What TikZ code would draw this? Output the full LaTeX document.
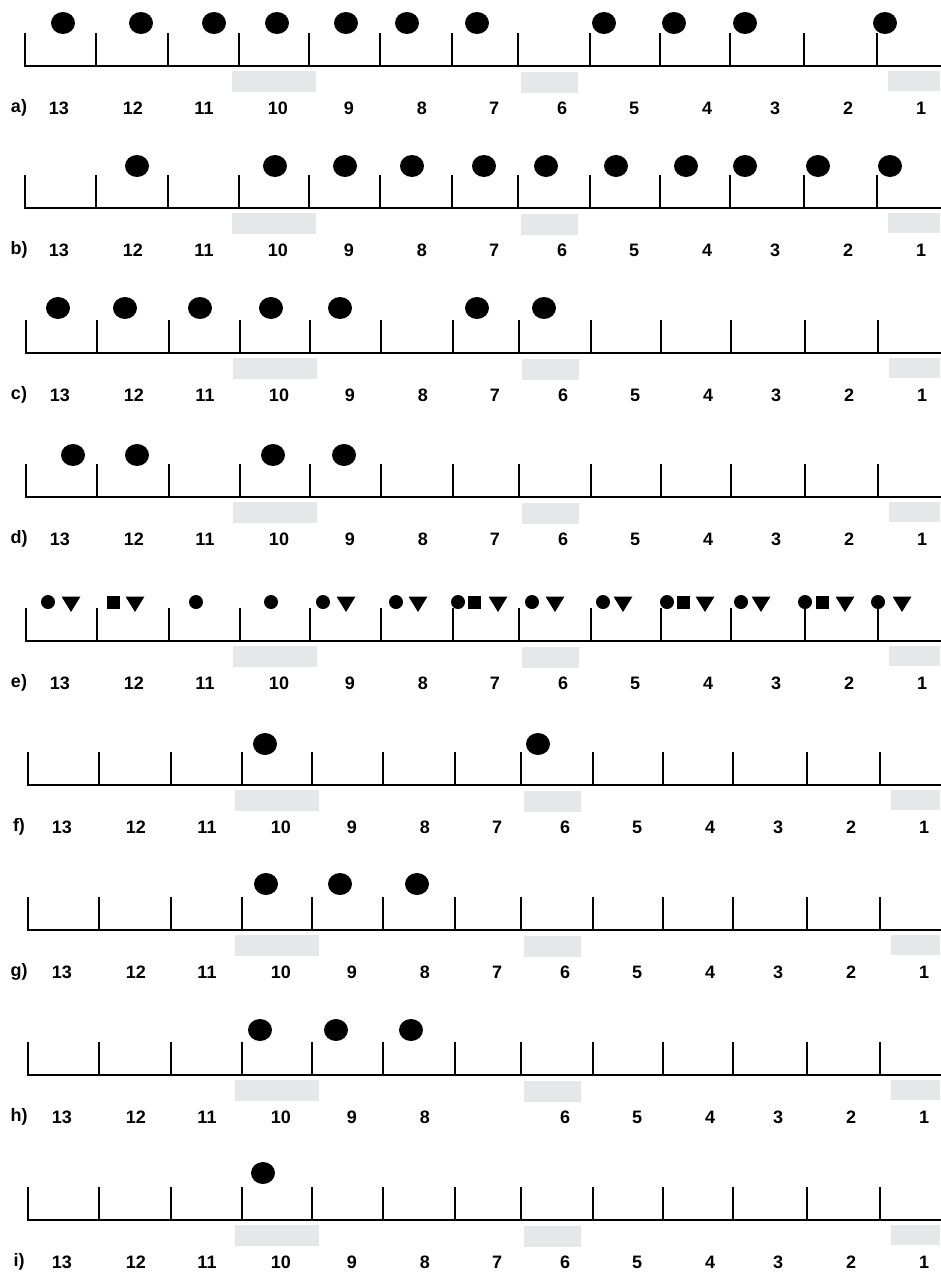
\documentclass[tikz,border=0pt]{standalone}
\usepackage{fontspec}
\setmainfont{Liberation Sans}
\definecolor{boxgray}{HTML}{E6E7E8}
\begin{document}
\begin{tikzpicture}[x=1pt,y=-1pt,
  lbl/.style={font=\bfseries\fontsize{18}{18}\selectfont, inner sep=0pt, anchor=center},
  graybox/.style={fill=boxgray, draw=none},
  axisline/.style={line width=2.3pt, line cap=rect},
  tickline/.style={line width=2pt},
  dotmark/.style={fill=black},
]
\useasboundingbox[fill=white] (0,0) rectangle (940,1272);
% axes, ticks, grey boxes, labels
\foreach \r/\k/\b/\s in {a/0/66/0, b/1/208/0, c/2/353/1, d/3/497/1, e/4/641/1, f/5/785/3, g/6/930/3, h/7/1075/3, i/8/1220/3}{
  \fill[graybox] (232+\s,\b+5) rectangle (316+\s,\b+26);
  \fill[graybox] (521+\s,\b+6) rectangle (578+\s,\b+27);
  \fill[graybox] (888+\s,\b+5) rectangle (940,\b+25);
  \draw[axisline] (25+\s,\b) -- (940,\b);
  \foreach \t in {25,96,168,239,309,380,452,518,590,660,730,804,877}
    \draw[tickline] (\t+\s,\b-33) -- (\t+\s,\b);
  \node[lbl] (lab-\r) at (19,\b+42) {\r)};
  \foreach \n/\x in {13/59,12/133,11/204,10/278,9/349,8/422,7/494,6/562,5/634,4/707,3/775,2/848,1/921}{
    \pgfmathtruncatemacro{\skiplab}{(\k==7)*(\n==7)}
    \ifnum\skiplab=0
      \node[lbl] (lab-\r-\n) at (\x+\s,\b+42) {\n};
    \fi
  }
}
% dots
\foreach \b/\dy/\D in {
  66/43/{63,141,214,277,346,407,477,604,674,745,885},
  208/42/{137,275,345,412,484,546,616,686,745,818,890},
  353/45/{58,125,200,271,340,477,544},
  497/42/{73,137,273,344},
  785/41/{265,538},
  930/46/{266,340,417},
  1075/45/{260,336,411},
  1220/47/{263}}{
  \foreach \x in \D
    \fill[dotmark] (\x,\b-\dy) ellipse [x radius=12pt, y radius=11pt];
}
% row e symbols
\foreach \x in {48,196,271,323,396,458,532,603,667,741,805,878}
  \fill[dotmark] (\x,602) circle [radius=7pt];
\foreach \x in {113,474,683,822}
  \fill[dotmark] (\x-6.5,595.5) rectangle (\x+6.5,608.5);
\foreach \x in {71,135,346,418,498,555,623,705,761,845,902}
  \fill[dotmark] (\x-9.5,596.5) -- (\x+9.5,596.5) -- (\x,612) -- cycle;
\end{tikzpicture}
\end{document}
